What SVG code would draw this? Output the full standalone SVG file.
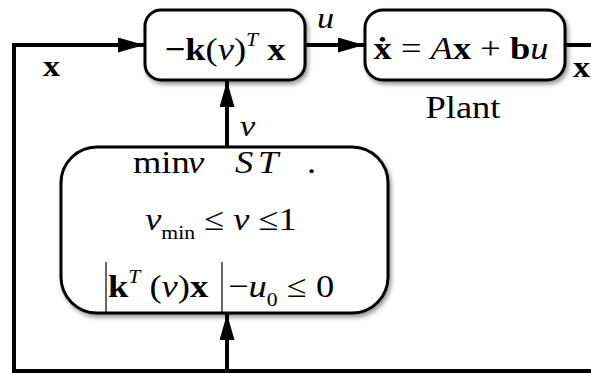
<svg xmlns="http://www.w3.org/2000/svg" width="591" height="373" viewBox="0 0 591 373" font-family="Liberation Serif, Times New Roman, serif">
<style>
.box{fill:#fff;stroke:#000;stroke-width:3;filter:url(#sh)}
.wire{fill:none;stroke:#000;stroke-width:4}
.b{font-weight:bold}
.i{font-style:italic}
</style>
<defs>
<filter id="sh" x="-10%" y="-10%" width="130%" height="140%">
<feDropShadow dx="2" dy="3" stdDeviation="2" flood-color="#000" flood-opacity="0.4"/>
</filter>
<marker id="ah" viewBox="0 0 26 15" refX="26" refY="7.5" markerWidth="26" markerHeight="15" markerUnits="userSpaceOnUse" orient="auto">
<path d="M0,0 L26,7.5 L0,15 z" fill="#000"/>
</marker>
</defs>
<g id="connectors">
<path class="wire" d="M591,371 L14,371 L14,45 L144,45" marker-end="url(#ah)"/>
<path class="wire" d="M305,45 L364,45" marker-end="url(#ah)"/>
<path class="wire" d="M565,45 L591,45"/>
<path class="wire" d="M227,371 L227,314" marker-end="url(#ah)"/>
<path class="wire" d="M227,147 L227,81" marker-end="url(#ah)"/>
</g>
<g id="controller">
<rect class="box" x="145" y="10" width="160" height="70" rx="16"/>
<text transform="matrix(1.14,0,0,1,225,60)" font-size="32" text-anchor="middle"><tspan class="b">−k</tspan>(<tspan class="i">ν</tspan>)<tspan class="i" font-size="19" dy="-14">T</tspan><tspan class="b" dy="14"> x</tspan></text>
</g>
<g id="plant">
<rect class="box" x="365" y="10" width="200" height="70" rx="18"/>
<text transform="matrix(1.14,0,0,1,461,59)" font-size="32" text-anchor="middle"><tspan class="b">ẋ</tspan> = <tspan class="i">A</tspan><tspan class="b">x</tspan> + <tspan class="b">b</tspan><tspan class="i">u</tspan></text>
<text transform="matrix(1.14,0,0,1,463,118)" font-size="32" text-anchor="middle">Plant</text>
</g>
<g id="optimizer">
<rect class="box" x="61" y="147" width="327" height="166" rx="36"/>
<text transform="matrix(1.14,0,0,1,133,173)" font-size="32">min</text>
<text class="i" transform="matrix(1.14,0,0,1,188,173)" font-size="32">ν</text>
<text class="i" transform="matrix(1.14,0,0,1,235,173)" font-size="32">S</text>
<text class="i" transform="matrix(1.14,0,0,1,258,173)" font-size="32">T</text>
<text transform="matrix(1.14,0,0,1,307,173)" font-size="32">.</text>
<text transform="matrix(1.14,0,0,1,221,230)" font-size="32" text-anchor="middle"><tspan class="i">ν</tspan><tspan font-size="19" dy="9">min</tspan><tspan dy="-9"> ≤ </tspan><tspan class="i">ν</tspan> ≤1</text>
<text transform="matrix(1.14,0,0,1,108,297)" font-size="32"><tspan class="b">k</tspan><tspan class="i" font-size="19" dy="-14">T</tspan><tspan dy="14"> (</tspan><tspan class="i">ν</tspan>)<tspan class="b">x</tspan></text>
<text transform="matrix(1.14,0,0,1,228,297)" font-size="32">−<tspan class="i">u</tspan><tspan font-size="19" dy="9">0</tspan><tspan dy="-9"> ≤ 0</tspan></text>
<line x1="106" y1="262" x2="106" y2="313" stroke="#000" stroke-width="1.2"/>
<line x1="222" y1="262" x2="222" y2="313" stroke="#000" stroke-width="1.2"/>
</g>
<g id="labels">
<text class="b" transform="matrix(1.14,0,0,1,43,76)" font-size="30">x</text>
<text class="i" transform="matrix(1.14,0,0,1,317,28)" font-size="30">u</text>
<text class="i" transform="matrix(1.14,0,0,1,240,136)" font-size="30">ν</text>
<text class="b" transform="matrix(1.14,0,0,1,573,77)" font-size="30">x</text>
</g>
</svg>
